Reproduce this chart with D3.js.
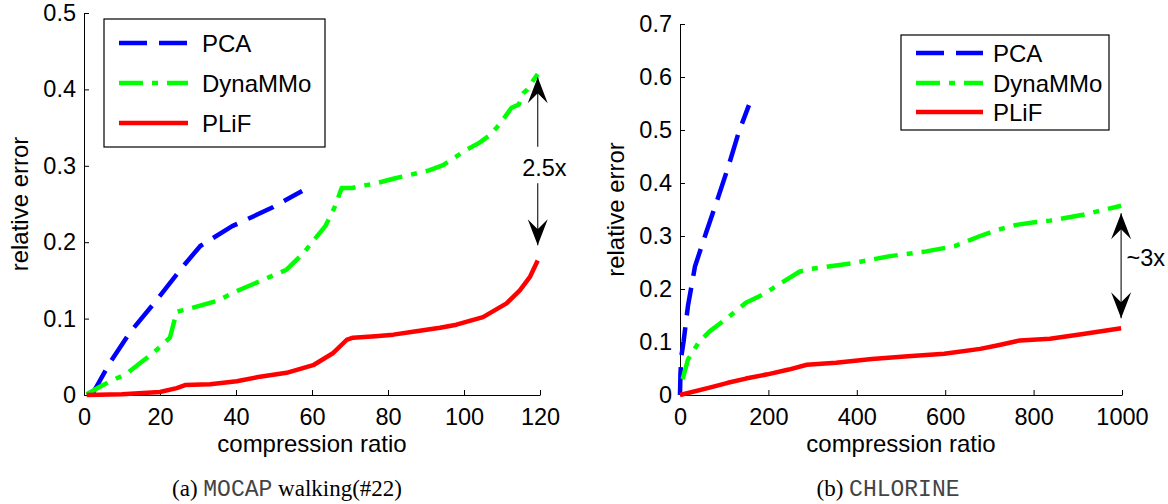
<!DOCTYPE html>
<html>
<head>
<meta charset="utf-8">
<script src="https://cdn.jsdelivr.net/npm/d3@7"></script>
<style>
  body { margin: 0; background: #fff; }
  text { font-family: "Liberation Sans", Arial, Helvetica, sans-serif; fill: #000; }
</style>
</head>
<body>
<svg id="chart" width="1168" height="504"></svg>
<script>
// ---- (a) MOCAP walking(#22): relative error vs compression ratio ----
const mocapPcaRatio = [2, 3.3, 6.8, 12.1, 19.1, 26, 30.6, 32.5, 39, 43.8, 49.4, 57.4];
const mocapPcaError = [0, 0.011, 0.042, 0.082, 0.124, 0.168, 0.195, 0.201, 0.221, 0.232, 0.245, 0.267];

const mocapDynaRatio = [0.7, 5, 11.2, 18.2, 22.6, 24.4, 27, 34.9, 40.2, 46.3, 53.3, 57.8, 60.7, 63.5, 65.9, 67.8, 70.6, 76.7, 81.4, 90.8, 94.5, 100.7, 104, 106.8, 109.5, 112.5, 114.4, 115.6, 116.7, 118.1, 119.4];
const mocapDynaError = [0.001, 0.013, 0.028, 0.055, 0.075, 0.109, 0.112, 0.123, 0.136, 0.149, 0.164, 0.186, 0.204, 0.221, 0.245, 0.271, 0.271, 0.277, 0.283, 0.294, 0.301, 0.321, 0.33, 0.34, 0.355, 0.376, 0.38, 0.395, 0.4, 0.411, 0.42];

const mocapPlifRatio = [0.7, 10, 20, 24.4, 26.6, 33.2, 40.2, 46.3, 53.3, 60.3, 65.6, 69.1, 70.8, 76.7, 81.4, 87, 93.7, 98, 105, 111.2, 114.7, 117.4, 119.4];
const mocapPlifError = [0, 0.001, 0.004, 0.009, 0.013, 0.014, 0.018, 0.024, 0.029, 0.039, 0.055, 0.072, 0.075, 0.077, 0.079, 0.083, 0.088, 0.092, 0.102, 0.12, 0.137, 0.155, 0.176];

const mocapRatioTicks = [0, 20, 40, 60, 80, 100, 120];
const mocapErrorTicks = [0, 0.1, 0.2, 0.3, 0.4, 0.5];

// ---- (b) CHLORINE: relative error vs compression ratio ----
const chlorinePcaRatio = [0, 1, 3, 8, 18, 34, 59, 86, 109, 133, 156];
const chlorinePcaError = [0, 0.04, 0.073, 0.1, 0.168, 0.243, 0.306, 0.372, 0.43, 0.496, 0.547];

const chlorineDynaRatio = [6, 18, 42, 67, 108, 149, 189, 230, 271, 296, 393, 475, 557, 622, 679, 720, 761, 802, 837, 912, 998];
const chlorineDynaError = [0.03, 0.067, 0.099, 0.12, 0.146, 0.174, 0.19, 0.212, 0.233, 0.238, 0.249, 0.262, 0.271, 0.281, 0.3, 0.312, 0.321, 0.326, 0.329, 0.34, 0.357];

const chlorinePlifRatio = [0, 67, 108, 149, 198, 246, 287, 353, 434, 516, 598, 679, 720, 769, 837, 912, 998];
const chlorinePlifError = [0, 0.014, 0.023, 0.031, 0.039, 0.048, 0.057, 0.061, 0.068, 0.073, 0.078, 0.087, 0.094, 0.103, 0.106, 0.115, 0.126];

const chlorineRatioTicks = [0, 200, 400, 600, 800, 1000];
const chlorineErrorTicks = [0, 0.1, 0.2, 0.3, 0.4, 0.5, 0.6, 0.7];

const methodNames = ["PCA", "DynaMMo", "PLiF"];
const methodColors = ["#0000ff", "#00ff00", "#ff0000"];
const methodDashes = ["28,12", "24,9,6,9", null];

const svg = d3.select("#chart");

function zip(xs, ys) { return xs.map((x, i) => [x, ys[i]]); }

// Filled arrowhead with a notched back, pointing from (x1,y1) to (x2,y2)
function arrowHead(g, x1, y1, x2, y2, len, wid, notch) {
  const dx = x2 - x1, dy = y2 - y1, d = Math.hypot(dx, dy);
  const ux = dx / d, uy = dy / d, nx = -uy, ny = ux;
  const pts = [
    [x2, y2],
    [x2 - ux * len + nx * wid / 2, y2 - uy * len + ny * wid / 2],
    [x2 - ux * notch, y2 - uy * notch],
    [x2 - ux * len - nx * wid / 2, y2 - uy * len - ny * wid / 2]
  ];
  g.append("path").attr("d", "M" + pts.join("L") + "Z").attr("fill", "#000");
}

function drawPanel(cfg) {
  const x = d3.scaleLinear().domain(cfg.xDomain).range(cfg.xRange);
  const y = d3.scaleLinear().domain(cfg.yDomain).range(cfg.yRange);
  const g = svg.append("g");

  // axes: left and bottom only, ticks pointing inward
  const xAxis = d3.axisBottom(x).tickValues(cfg.xTicks).tickFormat(d3.format("d"))
    .tickSizeInner(-5).tickSizeOuter(0).tickPadding(13);
  const yAxis = d3.axisLeft(y).tickValues(cfg.yTicks)
    .tickFormat(d => d === 0 ? "0" : d3.format(".1f")(d))
    .tickSizeInner(-5).tickSizeOuter(0).tickPadding(8);

  const gx = g.append("g").attr("transform", `translate(0,${cfg.yRange[0]})`).call(xAxis);
  const gy = g.append("g").attr("transform", `translate(${cfg.xRange[0]},0)`).call(yAxis);
  [gx, gy].forEach(a => {
    a.selectAll("text").attr("font-family", null).style("font-size", "23.5px").attr("fill", "#000");
    a.selectAll("line,path").attr("stroke", "#000").attr("stroke-width", 1);
    a.attr("font-family", null).attr("font-size", null);
  });

  // axis titles
  g.append("text")
    .attr("x", (cfg.xRange[0] + cfg.xRange[1]) / 2).attr("y", 452)
    .attr("text-anchor", "middle").style("font-size", "24px")
    .text("compression ratio");
  g.append("text")
    .attr("transform", `translate(${cfg.yTitleX},${(cfg.yRange[0] + cfg.yRange[1]) / 2}) rotate(-90)`)
    .attr("text-anchor", "middle").style("font-size", "24px")
    .text("relative error");

  // series
  const line = d3.line().x(d => x(d[0])).y(d => y(d[1]));
  cfg.series.forEach((s, i) => {
    g.append("path")
      .datum(zip(s.xs, s.ys))
      .attr("d", line)
      .attr("fill", "none")
      .attr("stroke", methodColors[i])
      .attr("stroke-width", 4.5)
      .attr("stroke-linejoin", "round")
      .attr("stroke-dasharray", methodDashes[i]);
  });

  // legend
  const L = cfg.legend;
  g.append("rect").attr("x", L.x0).attr("y", L.y0)
    .attr("width", L.x1 - L.x0).attr("height", L.y1 - L.y0)
    .attr("fill", "#fff").attr("stroke", "#000").attr("stroke-width", 1.2);
  methodNames.forEach((name, i) => {
    const yy = L.rows[i];
    g.append("line").attr("x1", L.lineX0).attr("x2", L.lineX1)
      .attr("y1", yy).attr("y2", yy)
      .attr("stroke", methodColors[i]).attr("stroke-width", 4.5)
      .attr("stroke-dasharray", methodDashes[i]);
    g.append("text").attr("x", L.textX).attr("y", yy).attr("dy", "0.36em")
      .style("font-size", "24px").text(name);
  });

  // gap annotation
  const A = cfg.annotation;
  A.arrows.forEach(a => {
    const x1 = x(a[0]), y1 = y(a[1]), x2 = x(a[2]), y2 = y(a[3]);
    g.append("line").attr("x1", x1).attr("y1", y1).attr("x2", x2).attr("y2", y2)
      .attr("stroke", "#222").attr("stroke-width", 1.2);
    arrowHead(g, x1, y1, x2, y2, 26, 20, 16);
    if (a[4]) arrowHead(g, x2, y2, x1, y1, 26, 20, 16);
  });
  g.append("text").attr("x", x(A.label[0])).attr("y", y(A.label[1])).attr("dy", "0.36em")
    .style("font-size", "23.5px").text(A.text);

  // caption
  const cap = g.append("text").attr("x", cfg.captionX).attr("y", 496)
    .attr("text-anchor", "middle")
    .style("font-family", "'Liberation Serif', 'Times New Roman', serif")
    .style("font-size", "23px");
  cap.append("tspan").text(cfg.caption[0]);
  cap.append("tspan").style("font-family", "'Liberation Mono', 'Courier New', monospace")
    .attr("fill", "#444").text(cfg.caption[1]);
  cap.append("tspan").text(cfg.caption[2]);
}

drawPanel({
  xDomain: [0, 120], xRange: [84, 540],
  yDomain: [0, 0.5], yRange: [395, 13],
  xTicks: mocapRatioTicks, yTicks: mocapErrorTicks,
  yTitleX: 28,
  series: [
    { xs: mocapPcaRatio, ys: mocapPcaError },
    { xs: mocapDynaRatio, ys: mocapDynaError },
    { xs: mocapPlifRatio, ys: mocapPlifError }
  ],
  legend: { x0: 104, y0: 19, x1: 325, y1: 147, rows: [43, 83, 123], lineX0: 119, lineX1: 188, textX: 202 },
  annotation: {
    arrows: [[119.4, 0.325, 119.4, 0.416, false], [119.4, 0.277, 119.4, 0.196, false]],
    label: [115.3, 0.298], text: "2.5x"
  },
  captionX: 287,
  caption: ["(a) ", "MOCAP", " walking(#22)"]
});

drawPanel({
  xDomain: [0, 1000], xRange: [680, 1122],
  yDomain: [0, 0.7], yRange: [395, 24],
  xTicks: chlorineRatioTicks, yTicks: chlorineErrorTicks,
  yTitleX: 624,
  series: [
    { xs: chlorinePcaRatio, ys: chlorinePcaError },
    { xs: chlorineDynaRatio, ys: chlorineDynaError },
    { xs: chlorinePlifRatio, ys: chlorinePlifError }
  ],
  legend: { x0: 901, y0: 35, x1: 1109, y1: 130, rows: [53, 83, 112], lineX0: 916, lineX1: 983, textX: 993 },
  annotation: {
    arrows: [[998, 0.145, 998, 0.343, true]],
    label: [1010, 0.26], text: "~3x"
  },
  captionX: 888,
  caption: ["(b) ", "CHLORINE", ""]
});
</script>
</body>
</html>
